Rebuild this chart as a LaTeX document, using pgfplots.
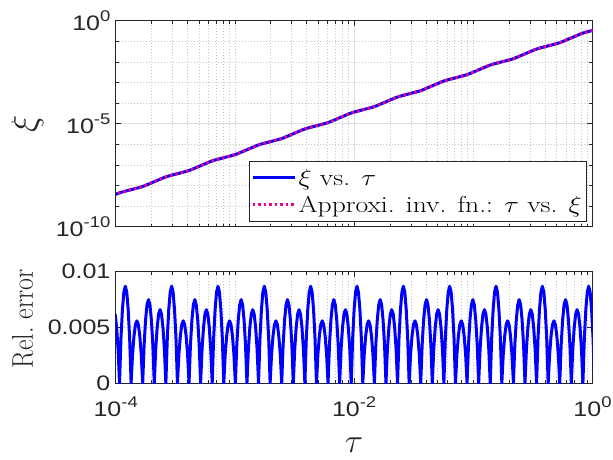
\documentclass[border=0pt]{standalone}
\usepackage{fix-cm}
\usepackage{fontspec}
\usepackage{pgfplots}
\usepackage{pgfplotstable}
\pgfplotsset{compat=1.18}
\newfontfamily\ticksfont{Liberation Sans}
\definecolor{axisgray}{RGB}{38,38,38}
\definecolor{majgrid}{RGB}{223,223,223}
\definecolor{mingrid}{RGB}{200,200,200}
\newcommand{\tl}[1]{10\raisebox{0.42em}{\fontsize{15.5}{15.5}\selectfont #1}}
\newcommand{\legtxt}[1]{\scalebox{1.2}[1]{#1}}

\pgfplotstableread{
lt lxi
-4.06519 -8.59005
-3.96800 -8.35616
-3.87081 -8.20227
-3.77362 -8.04837
-3.67643 -7.81448
-3.57924 -7.58058
-3.48205 -7.42669
-3.38486 -7.27280
-3.28767 -7.03890
-3.19048 -6.80501
-3.09329 -6.65111
-2.99610 -6.49722
-2.89891 -6.26333
-2.80172 -6.02943
-2.70453 -5.87554
-2.60734 -5.72164
-2.51015 -5.48775
-2.41296 -5.25386
-2.31577 -5.09996
-2.21858 -4.94607
-2.12139 -4.71217
-2.02420 -4.47828
-1.92701 -4.32438
-1.82982 -4.17049
-1.73263 -3.93660
-1.63544 -3.70270
-1.53825 -3.54881
-1.44106 -3.39491
-1.34387 -3.16102
-1.24668 -2.92713
-1.14949 -2.77323
-1.05230 -2.61934
-0.95511 -2.38544
-0.85792 -2.15155
-0.76073 -1.99766
-0.66354 -1.84376
-0.56635 -1.60987
-0.46916 -1.37597
-0.37197 -1.22208
-0.27478 -1.06819
-0.17759 -0.83429
-0.08040 -0.60040
0.01679 -0.44650
}\xitable

\pgfplotstableread{
lt err
-4.00445 0.00620
-3.99230 0.00500
-3.98015 0.00306
-3.96800 0
-3.95585 0.00404
-3.94370 0.00659
-3.93155 0.00817
-3.91940 0.0087
-3.90726 0.00817
-3.89511 0.00659
-3.88296 0.00404
-3.87081 0
-3.85866 0.00260
-3.84651 0.00424
-3.83436 0.00526
-3.82221 0.0056
-3.81007 0.00526
-3.79792 0.00424
-3.78577 0.00260
-3.77362 0
-3.76147 0.00348
-3.74932 0.00568
-3.73717 0.00704
-3.72502 0.0075
-3.71288 0.00704
-3.70073 0.00568
-3.68858 0.00348
-3.67643 0
-3.66428 0.00306
-3.65213 0.00500
-3.63998 0.00620
-3.62783 0.0066
-3.61568 0.00620
-3.60354 0.00500
-3.59139 0.00306
-3.57924 0
-3.56709 0.00404
-3.55494 0.00659
-3.54279 0.00817
-3.53064 0.0087
-3.51850 0.00817
-3.50635 0.00659
-3.49420 0.00404
-3.48205 0
-3.46990 0.00260
-3.45775 0.00424
-3.44560 0.00526
-3.43345 0.0056
-3.42131 0.00526
-3.40916 0.00424
-3.39701 0.00260
-3.38486 0
-3.37271 0.00348
-3.36056 0.00568
-3.34841 0.00704
-3.33626 0.0075
-3.32412 0.00704
-3.31197 0.00568
-3.29982 0.00348
-3.28767 0
-3.27552 0.00306
-3.26337 0.00500
-3.25122 0.00620
-3.23907 0.0066
-3.22692 0.00620
-3.21478 0.00500
-3.20263 0.00306
-3.19048 0
-3.17833 0.00404
-3.16618 0.00659
-3.15403 0.00817
-3.14188 0.0087
-3.12974 0.00817
-3.11759 0.00659
-3.10544 0.00404
-3.09329 0
-3.08114 0.00260
-3.06899 0.00424
-3.05684 0.00526
-3.04469 0.0056
-3.03255 0.00526
-3.02040 0.00424
-3.00825 0.00260
-2.99610 0
-2.98395 0.00348
-2.97180 0.00568
-2.95965 0.00704
-2.94750 0.0075
-2.93536 0.00704
-2.92321 0.00568
-2.91106 0.00348
-2.89891 0
-2.88676 0.00306
-2.87461 0.00500
-2.86246 0.00620
-2.85031 0.0066
-2.83816 0.00620
-2.82602 0.00500
-2.81387 0.00306
-2.80172 0
-2.78957 0.00404
-2.77742 0.00659
-2.76527 0.00817
-2.75312 0.0087
-2.74098 0.00817
-2.72883 0.00659
-2.71668 0.00404
-2.70453 0
-2.69238 0.00260
-2.68023 0.00424
-2.66808 0.00526
-2.65593 0.0056
-2.64379 0.00526
-2.63164 0.00424
-2.61949 0.00260
-2.60734 0
-2.59519 0.00348
-2.58304 0.00568
-2.57089 0.00704
-2.55874 0.0075
-2.54660 0.00704
-2.53445 0.00568
-2.52230 0.00348
-2.51015 0
-2.49800 0.00306
-2.48585 0.00500
-2.47370 0.00620
-2.46155 0.0066
-2.44940 0.00620
-2.43726 0.00500
-2.42511 0.00306
-2.41296 0
-2.40081 0.00404
-2.38866 0.00659
-2.37651 0.00817
-2.36436 0.0087
-2.35222 0.00817
-2.34007 0.00659
-2.32792 0.00404
-2.31577 0
-2.30362 0.00260
-2.29147 0.00424
-2.27932 0.00526
-2.26717 0.0056
-2.25503 0.00526
-2.24288 0.00424
-2.23073 0.00260
-2.21858 0
-2.20643 0.00348
-2.19428 0.00568
-2.18213 0.00704
-2.16998 0.0075
-2.15784 0.00704
-2.14569 0.00568
-2.13354 0.00348
-2.12139 0
-2.10924 0.00306
-2.09709 0.00500
-2.08494 0.00620
-2.07279 0.0066
-2.06064 0.00620
-2.04850 0.00500
-2.03635 0.00306
-2.02420 0
-2.01205 0.00404
-1.99990 0.00659
-1.98775 0.00817
-1.97560 0.0087
-1.96346 0.00817
-1.95131 0.00659
-1.93916 0.00404
-1.92701 0
-1.91486 0.00260
-1.90271 0.00424
-1.89056 0.00526
-1.87841 0.0056
-1.86627 0.00526
-1.85412 0.00424
-1.84197 0.00260
-1.82982 0
-1.81767 0.00348
-1.80552 0.00568
-1.79337 0.00704
-1.78122 0.0075
-1.76908 0.00704
-1.75693 0.00568
-1.74478 0.00348
-1.73263 0
-1.72048 0.00306
-1.70833 0.00500
-1.69618 0.00620
-1.68403 0.0066
-1.67188 0.00620
-1.65974 0.00500
-1.64759 0.00306
-1.63544 0
-1.62329 0.00404
-1.61114 0.00659
-1.59899 0.00817
-1.58684 0.0087
-1.57470 0.00817
-1.56255 0.00659
-1.55040 0.00404
-1.53825 0
-1.52610 0.00260
-1.51395 0.00424
-1.50180 0.00526
-1.48965 0.0056
-1.47751 0.00526
-1.46536 0.00424
-1.45321 0.00260
-1.44106 0
-1.42891 0.00348
-1.41676 0.00568
-1.40461 0.00704
-1.39246 0.0075
-1.38032 0.00704
-1.36817 0.00568
-1.35602 0.00348
-1.34387 0
-1.33172 0.00306
-1.31957 0.00500
-1.30742 0.00620
-1.29527 0.0066
-1.28312 0.00620
-1.27098 0.00500
-1.25883 0.00306
-1.24668 0
-1.23453 0.00404
-1.22238 0.00659
-1.21023 0.00817
-1.19808 0.0087
-1.18594 0.00817
-1.17379 0.00659
-1.16164 0.00404
-1.14949 0
-1.13734 0.00260
-1.12519 0.00424
-1.11304 0.00526
-1.10089 0.0056
-1.08875 0.00526
-1.07660 0.00424
-1.06445 0.00260
-1.05230 0
-1.04015 0.00348
-1.02800 0.00568
-1.01585 0.00704
-1.00370 0.0075
-0.99156 0.00704
-0.97941 0.00568
-0.96726 0.00348
-0.95511 0
-0.94296 0.00306
-0.93081 0.00500
-0.91866 0.00620
-0.90651 0.0066
-0.89436 0.00620
-0.88222 0.00500
-0.87007 0.00306
-0.85792 0
-0.84577 0.00404
-0.83362 0.00659
-0.82147 0.00817
-0.80932 0.0087
-0.79718 0.00817
-0.78503 0.00659
-0.77288 0.00404
-0.76073 0
-0.74858 0.00260
-0.73643 0.00424
-0.72428 0.00526
-0.71213 0.0056
-0.69999 0.00526
-0.68784 0.00424
-0.67569 0.00260
-0.66354 0
-0.65139 0.00348
-0.63924 0.00568
-0.62709 0.00704
-0.61494 0.0075
-0.60280 0.00704
-0.59065 0.00568
-0.57850 0.00348
-0.56635 0
-0.55420 0.00306
-0.54205 0.00500
-0.52990 0.00620
-0.51775 0.0066
-0.50560 0.00620
-0.49346 0.00500
-0.48131 0.00306
-0.46916 0
-0.45701 0.00404
-0.44486 0.00659
-0.43271 0.00817
-0.42056 0.0087
-0.40842 0.00817
-0.39627 0.00659
-0.38412 0.00404
-0.37197 0
-0.35982 0.00260
-0.34767 0.00424
-0.33552 0.00526
-0.32337 0.0056
-0.31123 0.00526
-0.29908 0.00424
-0.28693 0.00260
-0.27478 0
-0.26263 0.00348
-0.25048 0.00568
-0.23833 0.00704
-0.22618 0.0075
-0.21404 0.00704
-0.20189 0.00568
-0.18974 0.00348
-0.17759 0
-0.16544 0.00306
-0.15329 0.00500
-0.14114 0.00620
-0.12899 0.0066
-0.11684 0.00620
-0.10470 0.00500
-0.09255 0.00306
-0.08040 0
-0.06825 0.00404
-0.05610 0.00659
-0.04395 0.00817
-0.03180 0.0087
-0.01966 0.00817
-0.00751 0.00659
0.00464 0.00404
0.01679 0
}\errtable

\pgfplotsset{
  mstyle/.style={
    scale only axis, width=476.8pt,
    xmin=-4, xmax=0,
    axis line style={draw=axisgray, line width=0.8pt},
    every tick/.style={draw=axisgray, line width=0.7pt},
    major tick length=5pt, minor tick length=3pt,
    tick align=inside,
    xtick={-4,-2,0},
    minor xtick={-3.69897,-3.52288,-3.39794,-3.30103,-3.22185,-3.15490,-3.09691,-3.04576,-3,
      -2.69897,-2.52288,-2.39794,-2.30103,-2.22185,-2.15490,-2.09691,-2.04576,
      -1.69897,-1.52288,-1.39794,-1.30103,-1.22185,-1.15490,-1.09691,-1.04576,-1,
      -0.69897,-0.52288,-0.39794,-0.30103,-0.22185,-0.15490,-0.09691,-0.04576},
    xmajorgrids, xminorgrids,
    major grid style={draw=majgrid, line width=0.8pt},
    minor grid style={draw=mingrid, line width=0.7pt, dash pattern=on 0.8pt off 2.2pt},
    tick label style={font=\ticksfont\fontsize{21}{21}\selectfont, text=axisgray, xscale=1.19},
    yticklabel style={xshift=-1pt},
    scaled ticks=false,
  }
}

\begin{document}
\begin{tikzpicture}[x=1pt,y=1pt]
\useasboundingbox (0,0) rectangle (613,-460);
\begin{axis}[
  mstyle, at={(115.7pt,-20.7pt)}, anchor=north west, height=206pt,
  ymin=-10, ymax=0, ytick={-10,-5,0},
  minor ytick={-9,-8,-7,-6,-4,-3,-2,-1},
  yticklabels={\tl{-10},\tl{-5},\tl{0}},
  xticklabels={},
  ymajorgrids, yminorgrids,
  ylabel={$\xi$},
  ylabel style={at={(axis description cs:-0.185,0.5)}, anchor=center, font=\fontsize{36}{36}\selectfont, text=axisgray},
  legend style={at={(rel axis cs:1,0)}, anchor=south east, xshift=-5.8pt, yshift=5pt,
    draw=axisgray, line width=0.8pt, fill=white, font=\fontsize{23}{23}\selectfont,
    inner xsep=2pt, inner ysep=5pt, row sep=4.5pt,
    nodes={inner sep=2.5pt}, cells={anchor=west}},
  legend image code/.code={\draw[#1] (0pt,0pt) -- (42pt,0pt);},
]
\addplot[blue, line width=3pt, smooth, tension=0.4] table[x=lt,y=lxi]{\xitable};
\addlegendentry{\legtxt{$\xi$ vs. $\tau$}}
\addplot[magenta, line width=3pt, dash pattern=on 2.5pt off 3pt, smooth, tension=0.4] table[x=lt,y=lxi]{\xitable};
\addlegendentry{\legtxt{Approxi. inv. fn.: $\tau$ vs. $\xi$}}
\end{axis}
\begin{axis}[
  mstyle, at={(115.7pt,-271.7pt)}, anchor=north west, height=111.6pt,
  ymin=0, ymax=0.01, ytick={0,0.005,0.01},
  yticklabels={0,0.005,0.01},
  xticklabels={\tl{-4},\tl{-2},\tl{0}},
  xticklabel style={yshift=-10pt},
  ymajorgrids,
  ylabel={Rel.\ error},
  ylabel style={at={(axis description cs:-0.195,0.576)}, anchor=center, font=\fontsize{26}{26}\selectfont, text=axisgray, yscale=1.15},
  xlabel={$\tau$},
  xlabel style={at={(axis description cs:0.5,-0.55)}, anchor=center, inner sep=0pt, font=\fontsize{34}{34}\selectfont, text=axisgray},
]
\addplot[blue, line width=3pt, line join=round] table[x=lt,y=err]{\errtable};
\end{axis}
\end{tikzpicture}
\end{document}
